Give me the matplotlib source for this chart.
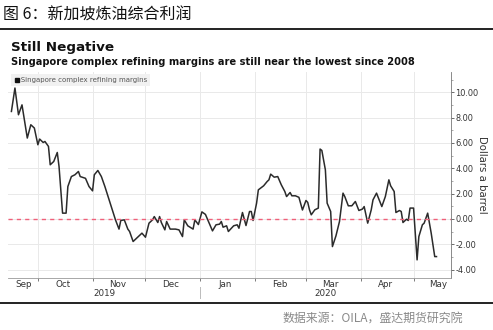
import numpy as np
import pandas as pd
import matplotlib
matplotlib.use("Agg")
import matplotlib.pyplot as plt
import matplotlib.dates as mdates
from matplotlib.ticker import FormatStrFormatter, MultipleLocator

# Singapore complex refining margins, USD per barrel
dates = [
    "2019-09-16", "2019-09-18", "2019-09-20", "2019-09-22", "2019-09-25", "2019-09-27",
    "2019-09-29", "2019-10-01", "2019-10-02", "2019-10-04", "2019-10-05", "2019-10-07",
    "2019-10-08", "2019-10-10", "2019-10-12", "2019-10-13", "2019-10-15", "2019-10-17",
    "2019-10-18", "2019-10-20", "2019-10-22", "2019-10-24", "2019-10-25", "2019-10-28",
    "2019-10-30", "2019-11-01", "2019-11-02", "2019-11-04", "2019-11-06", "2019-11-08",
    "2019-11-11", "2019-11-14", "2019-11-16", "2019-11-17", "2019-11-19", "2019-11-21",
    "2019-11-22", "2019-11-24", "2019-11-27", "2019-11-29", "2019-12-01", "2019-12-03",
    "2019-12-05", "2019-12-06", "2019-12-08", "2019-12-09", "2019-12-10", "2019-12-12",
    "2019-12-13", "2019-12-15", "2019-12-18", "2019-12-20", "2019-12-22", "2019-12-23",
    "2019-12-25", "2019-12-28", "2019-12-29", "2019-12-31", "2020-01-02", "2020-01-04",
    "2020-01-07", "2020-01-08", "2020-01-10", "2020-01-12", "2020-01-13", "2020-01-14",
    "2020-01-16", "2020-01-17", "2020-01-20", "2020-01-22", "2020-01-23", "2020-01-25",
    "2020-01-27", "2020-01-29", "2020-01-30", "2020-01-31", "2020-02-02", "2020-02-03",
    "2020-02-06", "2020-02-08", "2020-02-09", "2020-02-10", "2020-02-12", "2020-02-14",
    "2020-02-16", "2020-02-18", "2020-02-19", "2020-02-21", "2020-02-22", "2020-02-24",
    "2020-02-26", "2020-02-28", "2020-03-01", "2020-03-02", "2020-03-03", "2020-03-04",
    "2020-03-06", "2020-03-08", "2020-03-09", "2020-03-10", "2020-03-12", "2020-03-13",
    "2020-03-15", "2020-03-16", "2020-03-18", "2020-03-20", "2020-03-22", "2020-03-23",
    "2020-03-25", "2020-03-27", "2020-03-29", "2020-03-31", "2020-04-02", "2020-04-03",
    "2020-04-05", "2020-04-07", "2020-04-08", "2020-04-10", "2020-04-13", "2020-04-15",
    "2020-04-17", "2020-04-18", "2020-04-20", "2020-04-21", "2020-04-23", "2020-04-24",
    "2020-04-25", "2020-04-27", "2020-04-28", "2020-04-29", "2020-05-01", "2020-05-03",
    "2020-05-04", "2020-05-06", "2020-05-07", "2020-05-09", "2020-05-10", "2020-05-11",
    "2020-05-13", "2020-05-14",
]
margins = [
    8.48, 10.33, 8.22, 9.00, 6.38, 7.43,
    7.17, 5.85, 6.30, 6.03, 6.11, 5.72,
    4.27, 4.53, 5.24, 4.13, 0.45, 0.45,
    2.55, 3.34, 3.48, 3.74, 3.34, 3.20,
    2.55, 2.21, 3.48, 3.82, 3.34, 2.55,
    1.24, -0.08, -0.81, -0.13, -0.08, -0.81,
    -1.00, -1.79, -1.40, -1.13, -1.45, -0.34,
    -0.08, 0.18, -0.29, 0.18, -0.29, -0.87,
    -0.21, -0.81, -0.81, -0.87, -1.40, -0.08,
    -0.55, -0.81, -0.08, -0.45, 0.55, 0.35,
    -0.61, -0.95, -0.47, -0.42, -0.21, -0.66,
    -0.55, -1.00, -0.55, -0.47, -0.74, 0.50,
    -0.53, 0.58, 0.58, -0.13, 1.24, 2.29,
    2.61, 2.95, 3.08, 3.53, 3.29, 3.34,
    2.69, 2.16, 1.76, 2.08, 1.82, 1.82,
    1.70, 0.70, 1.45, 1.30, 0.71, 0.32,
    0.71, 0.85, 5.51, 5.40, 3.87, 1.24,
    0.58, -2.19, -1.34, -0.21, 2.03, 1.76,
    1.03, 1.03, 1.37, 0.66, 0.77, 0.97,
    -0.34, 0.71, 1.50, 2.03, 0.97, 1.76,
    3.08, 2.61, 2.16, 0.50, 0.66, 0.58,
    -0.29, -0.03, -0.13, 0.85, 0.85, -3.24,
    -1.40, -0.47, -0.34, 0.45, -0.34, -1.13,
    -2.98, -2.98,
]
month_names = ["Sep", "Oct", "Nov", "Dec", "Jan", "Feb", "Mar", "Apr", "May"]
years = ["2019", "2020"]
yticks = [-4, -2, 0, 2, 4, 6, 8, 10]

s = pd.Series(margins, index=pd.to_datetime(dates))
xmin, xmax = pd.Timestamp("2019-09-14"), pd.Timestamp("2020-05-22")

plt.rcParams["font.family"] = ["DejaVu Sans", "Noto Sans CJK SC"]
fig = plt.figure(figsize=(4.93, 3.30), dpi=100)

# header and footer of the report page
fig.text(0.006, 0.955, "图 6：新加坡炼油综合利润", family=["Noto Sans CJK SC"],
         fontsize=11.5, va="center", ha="left", color="#111111")
fig.add_artist(plt.Line2D([0, 1], [0.911, 0.911], color="#111111", lw=1.3))
fig.add_artist(plt.Line2D([0, 1], [0.082, 0.082], color="#111111", lw=1.3))
fig.text(0.757, 0.036, "数据来源：OILA，盛达期货研究院", family=["Noto Sans CJK SC"],
         fontsize=8.6, va="center", ha="center", color="#8a8a8a", style="italic")

fig.text(0.022, 0.857, "Still Negative", fontsize=9.7, weight="bold",
         va="center", ha="left", color="#111111")
fig.text(0.022, 0.812,
         "Singapore complex refining margins are still near the lowest since 2008",
         fontsize=7.15, weight="bold", va="center", ha="left", color="#111111")

ax = fig.add_axes([0.016, 0.158, 0.898, 0.624])
ax.plot(s.index, s.values, color="#2b2b2b", lw=1.1)
ax.axhline(0, color="#f0607a", lw=1.0, ls=(0, (3, 3)))

ax.set_xlim(xmin, xmax)
ax.set_ylim(-4.66, 11.6)

# y axis on the right
ax.yaxis.tick_right()
ax.yaxis.set_label_position("right")
ax.set_yticks(yticks)
ax.yaxis.set_minor_locator(MultipleLocator(1))
ax.yaxis.set_major_formatter(FormatStrFormatter("%.2f"))
ax.tick_params(axis="y", which="major", length=2.5, width=0.6, pad=1,
               labelsize=5.9, colors="#555555", labelcolor="#333333")
ax.tick_params(axis="y", which="minor", length=1.5, width=0.5, colors="#888888")
ax.set_ylabel("Dollars a barrel", rotation=270, fontsize=7.3, color="#333333",
              labelpad=6)

# x axis: month boundaries as ticks, names centred in each month
month_starts = pd.date_range("2019-10-01", "2020-05-01", freq="MS")
ax.set_xticks(month_starts)
ax.set_xticklabels([])
ax.tick_params(axis="x", which="major", length=2.5, width=0.6, colors="#666666")
label_pos = [pd.Timestamp("2019-09-23")] + list(month_starts + pd.Timedelta(days=14))
ax.set_xticks(label_pos, minor=True)
ax.set_xticklabels(month_names, minor=True)
ax.tick_params(axis="x", which="minor", length=0, pad=1.5, labelsize=6.3,
               labelcolor="#333333")

trans = ax.get_xaxis_transform()
year_break = pd.Timestamp("2020-01-01")
for yr, (a, b) in zip(years, [(xmin, year_break), (year_break, xmax)]):
    ax.text(a + (b - a) / 2, -0.077, yr, transform=trans, ha="center", va="center",
            fontsize=6.3, color="#333333")
ax.plot([year_break, year_break], [-0.045, -0.1], transform=trans,
        color="#bbbbbb", lw=0.7, clip_on=False)

ax.grid(True, which="major", color="#e9e9e9", lw=0.7)
for side in ["top", "left"]:
    ax.spines[side].set_visible(False)
ax.spines["right"].set_color("#777777")
ax.spines["right"].set_linewidth(0.6)
ax.spines["bottom"].set_color("#999999")
ax.spines["bottom"].set_linewidth(0.6)

# legend tag: grey label in a light box with a black square swatch
ax.text(0.014, 0.96, "   Singapore complex refining margins", transform=ax.transAxes,
        fontsize=5.0, va="center", ha="left", color="#555555", zorder=5,
        bbox=dict(boxstyle="square,pad=0.4", fc="#f1f1f1", ec="none"))
ax.plot([0.021], [0.96], marker="s", ms=3.2, color="#111111", ls="none",
        transform=ax.transAxes, zorder=6, clip_on=False)

fig.savefig("out.png", dpi=100)
